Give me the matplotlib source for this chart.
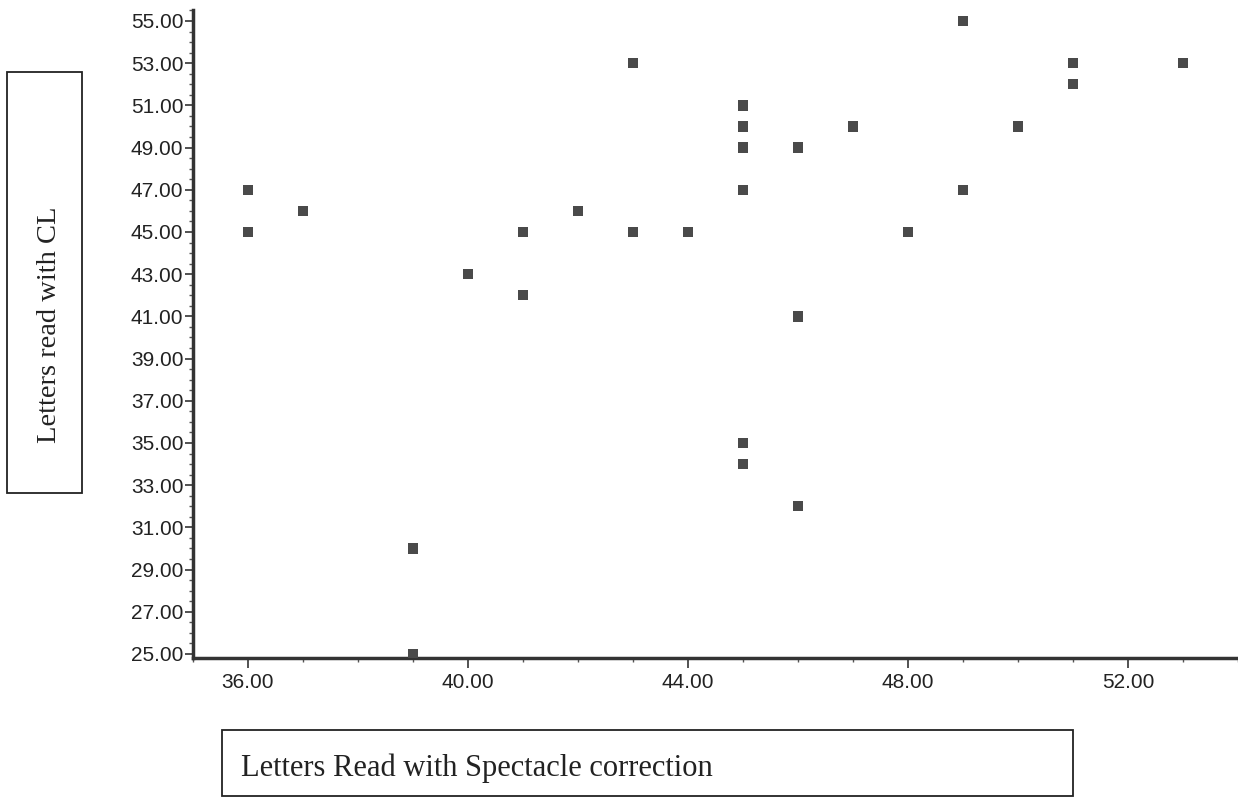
import matplotlib.pyplot as plt
from matplotlib.patches import Rectangle
from matplotlib.ticker import MultipleLocator, FormatStrFormatter

# letters read with spectacle correction (x) vs with contact lenses (y)
spectacle = [36, 36, 37, 39, 39, 40, 41, 41, 42, 43, 43, 44, 45, 45, 45,
             45, 45, 45, 46, 46, 46, 47, 48, 49, 49, 50, 51, 51, 53]
contact_lens = [47, 45, 46, 30, 25, 43, 45, 42, 46, 53, 45, 45, 51, 50, 49,
                47, 35, 34, 49, 41, 32, 50, 45, 55, 47, 50, 53, 52, 53]

W, H = 1238, 797
fig = plt.figure(figsize=(W / 100, H / 100), dpi=100)
ax = fig.add_axes([193 / W, 1 - 658 / H, 1 - 193 / W, (658 - 10) / H])

ax.scatter(spectacle, contact_lens, marker='s', s=55, c='#4a4a4a',
           edgecolors='none', zorder=3)

ax.set_xlim(35.0, 54.0)
ax.set_ylim(24.81, 55.52)

ax.xaxis.set_major_locator(MultipleLocator(4))
ax.xaxis.set_minor_locator(MultipleLocator(1))
ax.yaxis.set_major_locator(MultipleLocator(2, offset=1))
ax.yaxis.set_minor_locator(MultipleLocator(0.5))
ax.xaxis.set_major_formatter(FormatStrFormatter('%.2f'))
ax.yaxis.set_major_formatter(FormatStrFormatter('%.2f'))

for side in ['top', 'right']:
    ax.spines[side].set_visible(False)
for side in ['left', 'bottom']:
    ax.spines[side].set_linewidth(2.5)
    ax.spines[side].set_color('#333333')

ax.tick_params(axis='y', which='major', length=6, width=1.2, pad=1,
               color='#333333', labelsize=15, labelcolor='#222222')
ax.tick_params(axis='x', which='major', length=7, width=1.2, pad=4,
               color='#333333', labelsize=15, labelcolor='#222222')
ax.tick_params(axis='both', which='minor', length=3, width=1.0, color='#555555')
for lab in ax.get_xticklabels() + ax.get_yticklabels():
    lab.set_family('Liberation Sans')

# boxed axis titles
fig.patches.append(Rectangle((7 / W, 1 - 493 / H), 75 / W, 421 / H,
                             transform=fig.transFigure, fill=False,
                             edgecolor='#222222', linewidth=1.3))
fig.text(49 / W, 1 - 325 / H, 'Letters read with CL', rotation=90,
         ha='center', va='center', fontsize=20.5, family='Liberation Serif',
         color='#222222')

fig.patches.append(Rectangle((222 / W, 1 - 796 / H), 851 / W, 66 / H,
                             transform=fig.transFigure, fill=False,
                             edgecolor='#222222', linewidth=1.3))
fig.text(241 / W, 1 - 768 / H, 'Letters Read with Spectacle correction',
         ha='left', va='center', fontsize=22, family='Liberation Serif',
         color='#222222')

plt.savefig('out.png', dpi=100)
